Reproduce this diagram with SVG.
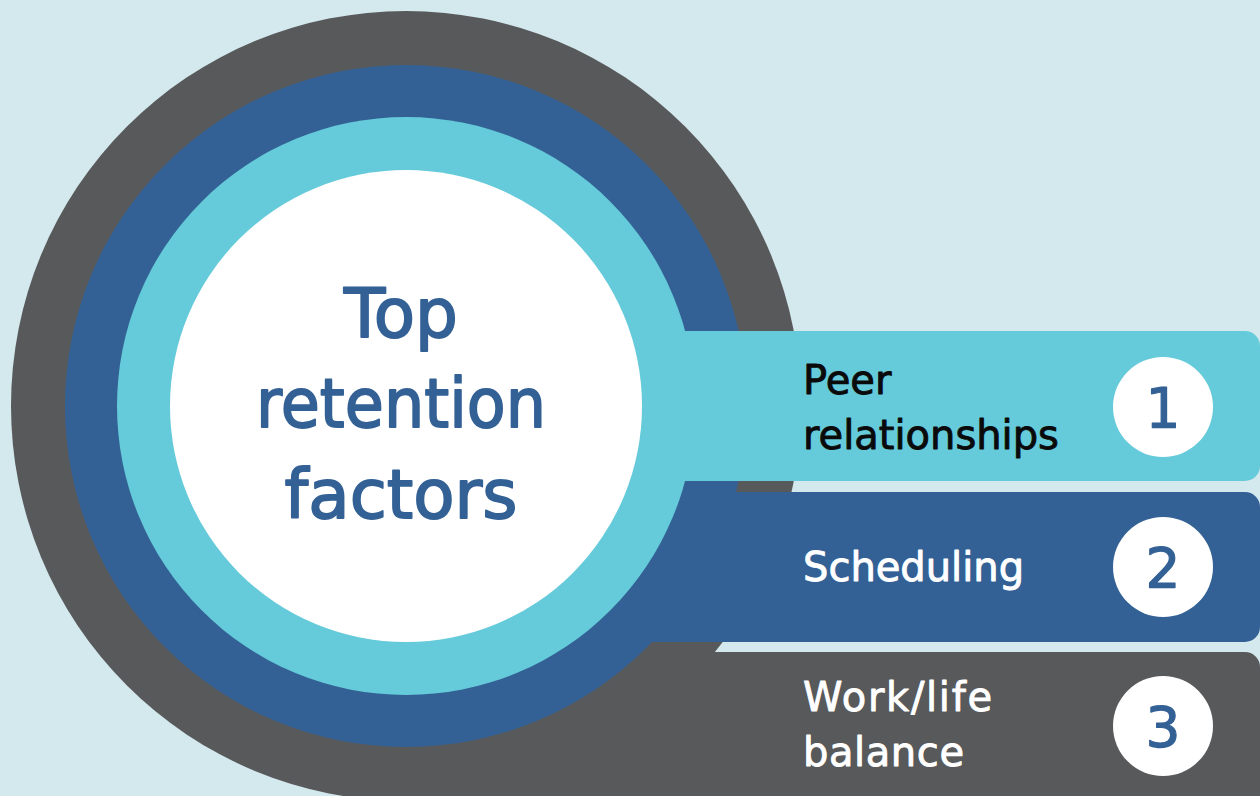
<svg xmlns="http://www.w3.org/2000/svg" width="1260" height="796" viewBox="0 0 1260 796">
<style>
.lbl{font-family:"DejaVu Sans","Liberation Sans",sans-serif;font-size:40px;stroke-width:0.9px;stroke-linejoin:round;}
.blk{fill:#0A0A0A;stroke:#0A0A0A}
.wht{fill:#FFFFFF;stroke:#FFFFFF}
.title{font-family:"DejaVu Sans","Liberation Sans",sans-serif;font-size:68px;fill:#336195;stroke:#336195;stroke-width:1.8px;stroke-linejoin:round;text-anchor:middle;}
.num{font-family:"DejaVu Sans","Liberation Sans",sans-serif;font-size:55px;fill:#336195;stroke:#336195;stroke-width:1.2px;stroke-linejoin:round;text-anchor:middle;}
.dark{fill:#58595B}.blue{fill:#336195}.cyan{fill:#65CAD9}.white{fill:#FFFFFF}
</style>
<rect width="1260" height="796" fill="#D4E9EE"/>
<g id="ring-dark">
<circle class="dark" cx="406" cy="406" r="395"/>
<rect class="dark" x="450" y="652" width="810" height="160" rx="15"/>
</g>
<g id="ring-blue">
<circle class="blue" cx="406" cy="406" r="341"/>
<rect class="blue" x="600" y="492" width="660" height="150" rx="15"/>
</g>
<g id="ring-cyan">
<circle class="cyan" cx="406" cy="406" r="289"/>
<rect class="cyan" x="650" y="331" width="610" height="150" rx="15"/>
</g>
<g id="center">
<circle class="white" cx="406" cy="406" r="236"/>
<text class="title" x="401" y="337" textLength="114" lengthAdjust="spacingAndGlyphs">Top</text>
<text class="title" x="401" y="427" textLength="290" lengthAdjust="spacingAndGlyphs">retention</text>
<text class="title" x="401" y="518" textLength="233" lengthAdjust="spacingAndGlyphs">factors</text>
</g>
<g id="factor-1">
<text class="lbl blk" x="803" y="394">Peer</text>
<text class="lbl blk" x="803" y="449">relationships</text>
<circle class="white" cx="1163" cy="407" r="50"/>
<text class="num" x="1163" y="427">1</text>
</g>
<g id="factor-2">
<text class="lbl wht" x="803" y="581">Scheduling</text>
<circle class="white" cx="1163" cy="567" r="50"/>
<text class="num" x="1163" y="587">2</text>
</g>
<g id="factor-3">
<text class="lbl wht" x="803" y="711" textLength="189">Work/life</text>
<text class="lbl wht" x="803" y="766" textLength="161">balance</text>
<circle class="white" cx="1163" cy="726" r="50"/>
<text class="num" x="1163" y="746">3</text>
</g>
<g id="connectors"></g>
</svg>
